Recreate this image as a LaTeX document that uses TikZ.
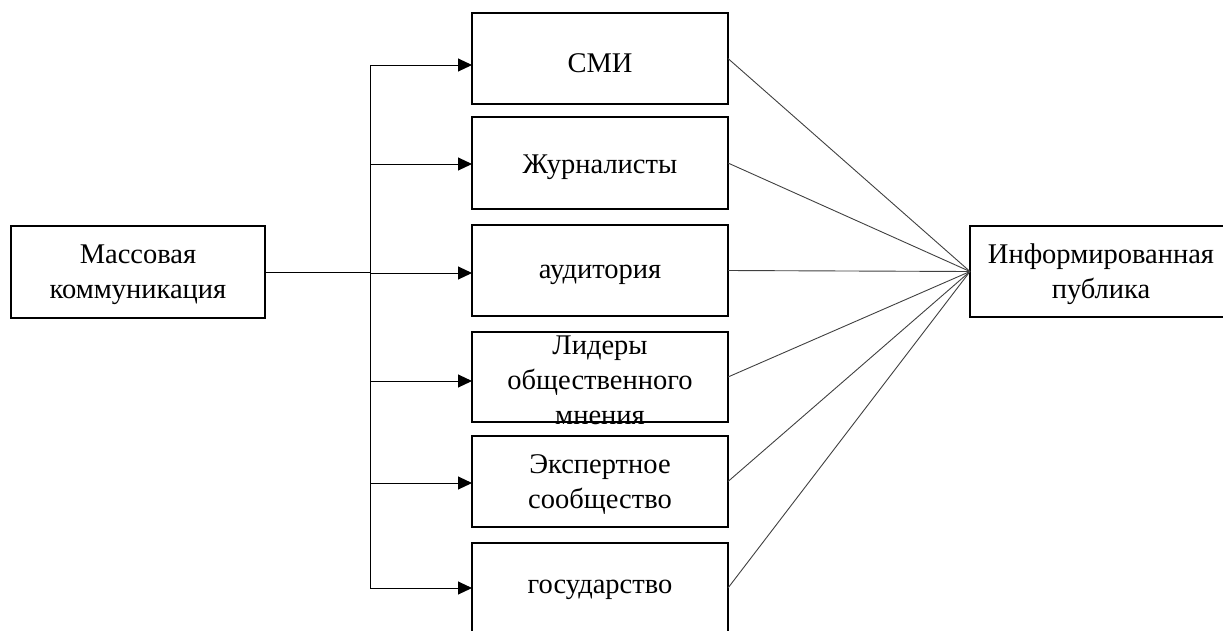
\documentclass[tikz,border=0pt]{standalone}
\usepackage{fontspec}
\setmainfont{Liberation Serif}
\usetikzlibrary{arrows.meta}
\begin{document}
\begin{tikzpicture}[x=1pt,y=-1pt,
  box/.style={draw=black,line width=2pt,minimum width=256pt,minimum height=91pt,inner sep=0pt,outer sep=0pt},
  lbl/.style={align=center,inner sep=0pt,font=\fontsize{28.5}{35}\selectfont},
  feed/.style={line width=1pt,-{Triangle[length=14pt,width=13pt]}},
  fan/.style={line width=0.9pt,draw=black!75}]
\useasboundingbox (0,0) rectangle (1223,630);
\node[box,minimum width=254pt,minimum height=92pt] (mk) at (138,272) {};
\node[lbl,yshift=-3pt] (mkt) at (mk) {Массовая\\коммуникация};
\node[box] (smi) at (600,58.5) {};
\node[lbl,yshift=-5pt] (smit) at (smi) {СМИ};
\node[box,minimum height=92pt] (zh) at (600,163) {};
\node[lbl,yshift=-4pt] (zht) at (zh) {Журналисты};
\node[box] (aud) at (600,270.5) {};
\node[lbl,yshift=-4pt] (audt) at (aud) {аудитория};
\node[box,minimum height=90pt] (lid) at (600,377) {};
\node[lbl] (lidt) at (600,380) {Лидеры\\общественного\\мнения};
\node[box] (exp) at (600,481.5) {};
\node[lbl,yshift=-3pt] (expt) at (exp) {Экспертное\\сообщество};
\node[box,minimum height=90pt] (gos) at (600,588) {};
\node[lbl] (gost) at (600,590) {государство};
\node[box,minimum width=262pt] (inf) at (1101,271.5) {};
\node[lbl,yshift=-3pt] (inft) at (inf) {Информированная\\публика};
% trunk
\coordinate (top) at (370,65);
\coordinate (bot) at (370,589);
\draw[line width=1pt] (top) -- (bot);
\draw[line width=1pt] (mk.east) -- (370,272);
\foreach \n/\y in {smi/65,zh/164,aud/273,lid/381,exp/483,gos/588}{
  \draw[feed] (370,\y) -- (\n.west |- 0,\y);
}
\foreach \n in {smi,zh,aud,lid,exp,gos}{
  \draw[fan] (\n.east) -- (inf.west);
}
\end{tikzpicture}
\end{document}
